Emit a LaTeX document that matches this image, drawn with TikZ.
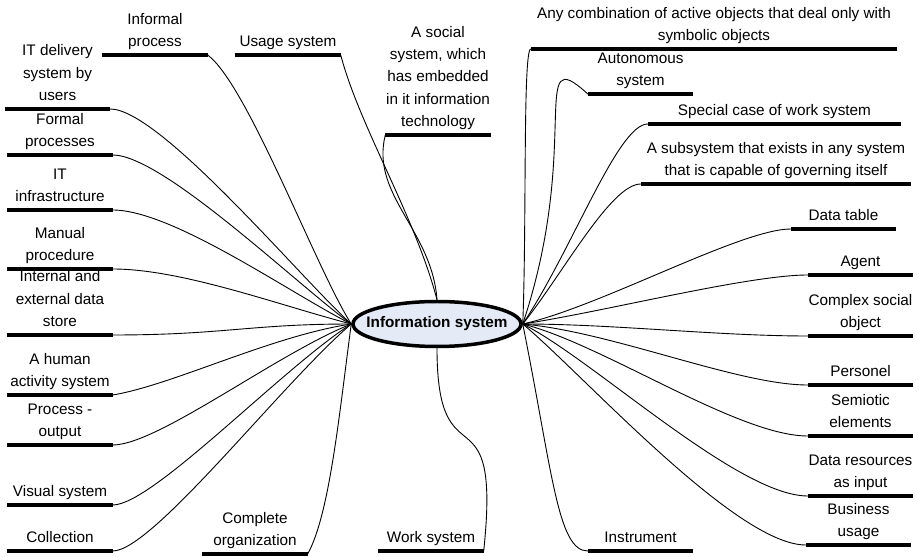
\documentclass[tikz,border=0pt]{standalone}
\usepackage{fontspec}
\setmainfont{Liberation Sans}
\usetikzlibrary{shapes.geometric}

\definecolor{hubblue}{RGB}{228,234,246}

\begin{document}
\begin{tikzpicture}[x=1pt,y=1pt,
    font=\fontsize{15.3}{22.2}\selectfont,
    leaf/.style={anchor=south,minimum width=105pt,inner xsep=0pt,inner ysep=8.5pt,text depth=0pt,align=center},
    bar/.style={line width=3.5pt},
    link/.style={line width=0.9pt},
    hub/.style={ellipse,draw,line width=3.5pt,fill=hubblue,minimum width=168pt,minimum height=45pt,inner xsep=-20pt,inner ysep=0pt,font=\fontsize{15.3}{18}\selectfont\bfseries}]
    \useasboundingbox (0,0) rectangle (919,557);

    % Central topic
    \node[hub] (info) at (437,233) {Information system};

    % Left column
    \node[leaf] (informal) at (155,502) {Informal\\process};
    \node[leaf] (usage) at (288,502) {Usage system};
    \node[leaf] (social) at (438,422) {A social\\system, which\\has embedded\\in it information\\technology};
    \node[leaf] (itdelivery) at (57.5,448) {IT delivery\\system by\\users};
    \node[leaf] (formal) at (60,402) {Formal\\processes};
    \node[leaf] (itinfra) at (60,347) {IT\\infrastructure};
    \node[leaf] (manual) at (60,288) {Manual\\procedure};
    \node[leaf] (datastore) at (60,222) {Internal and\\external data\\store};
    \node[leaf] (human) at (60,162) {A human\\activity system};
    \node[leaf] (procout) at (60,112) {Process -\\output};
    \node[leaf] (visual) at (60,52) {Visual system};
    \node[leaf] (collection) at (60,6) {Collection};
    \node[leaf] (complete) at (255,3) {Complete\\organization};
    \node[leaf] (worksys) at (431,6) {Work system};
    \node[leaf] (instrument) at (640.5,6) {Instrument};

    % Right column
    \node[leaf,minimum width=366pt] (anycomb) at (714,508) {Any combination of active objects that deal only with\\symbolic objects};
    \node[leaf] (autonomous) at (640.5,463) {Autonomous\\system};
    \node[leaf,minimum width=253pt] (special) at (774.5,433) {Special case of work system};
    \node[leaf,minimum width=270pt] (subsystem) at (776,373) {A subsystem that exists in any system\\that is capable of governing itself};
    \node[leaf] (datatable) at (843.5,328) {Data table};
    \node[leaf] (agent) at (860.5,282) {Agent};
    \node[leaf] (complex) at (860.5,221) {Complex social\\object};
    \node[leaf] (personel) at (860.5,172) {Personel};
    \node[leaf] (semiotic) at (860.5,121) {Semiotic\\elements};
    \node[leaf] (datares) at (860.5,61) {Data resources\\as input};
    \node[leaf] (business) at (858.5,12) {Business\\usage};

    % Underlines
    \foreach \leaf in {informal,usage,social,itdelivery,formal,itinfra,manual,datastore,human,procout,visual,collection,complete,worksys,instrument,anycomb,autonomous,special,subsystem,datatable,agent,complex,personel,semiotic,datares,business}
        \draw[bar] (\leaf.south west) -- (\leaf.south east);

    % Branches to the left side
    \draw[link] (informal.south east) .. controls +(40,-30) and +(-35,55) .. (info.west);
    \draw[link] (itdelivery.south east) .. controls +(50,0) and +(-50,45) .. (info.west);
    \draw[link] (formal.south east) .. controls +(50,0) and +(-55,40) .. (info.west);
    \draw[link] (itinfra.south east) .. controls +(60,0) and +(-60,30) .. (info.west);
    \draw[link] (manual.south east) .. controls +(70,0) and +(-70,18) .. (info.west);
    \draw[link] (datastore.south east) .. controls +(110,0) and +(-100,0) .. (info.west);
    \draw[link] (human.south east) .. controls +(60,10) and +(-80,-12) .. (info.west);
    \draw[link] (procout.south east) .. controls +(45,0) and +(-75,-30) .. (info.west);
    \draw[link] (visual.south east) .. controls +(40,0) and +(-70,-45) .. (info.west);
    \draw[link] (collection.south east) .. controls +(40,0) and +(-70,-60) .. (info.west);
    \draw[link] (complete.south east) .. controls +(22,40) and +(-12,-90) .. (info.west);

    % Top and bottom
    \draw[link] (usage.south east) .. controls +(19,-72) and +(-22,84) .. (info.north);
    \draw[link] (social.south west) .. controls +(-15,-60) and +(-5,70) .. (info.north);
    \draw[link] (worksys.south east) .. controls +(18,170) and +(0,-140) .. (info.south);
    \draw[link] (instrument.south west) .. controls +(-30,0) and +(30,-150) .. (info.east);

    % Branches to the right side
    \draw[link] (anycomb.south west) .. controls +(-8,0) and +(4,100) .. (info.east);
    \draw[link] (autonomous.south west) .. controls +(-60,55) and +(60,180) .. (info.east);
    \draw[link] (special.south west) .. controls +(-30,0) and +(50,75) .. (info.east);
    \draw[link] (subsystem.south west) .. controls +(-30,0) and +(40,50) .. (info.east);
    \draw[link] (datatable.south west) .. controls +(-50,0) and +(77,17) .. (info.east);
    \draw[link] (agent.south west) .. controls +(-60,0) and +(80,12) .. (info.east);
    \draw[link] (complex.south west) .. controls +(-90,0) and +(90,0) .. (info.east);
    \draw[link] (personel.south west) .. controls +(-70,0) and +(90,-8) .. (info.east);
    \draw[link] (semiotic.south west) .. controls +(-70,0) and +(80,-20) .. (info.east);
    \draw[link] (datares.south west) .. controls +(-70,0) and +(70,-35) .. (info.east);
    \draw[link] (business.south west) .. controls +(-70,0) and +(60,-50) .. (info.east);
\end{tikzpicture}
\end{document}
